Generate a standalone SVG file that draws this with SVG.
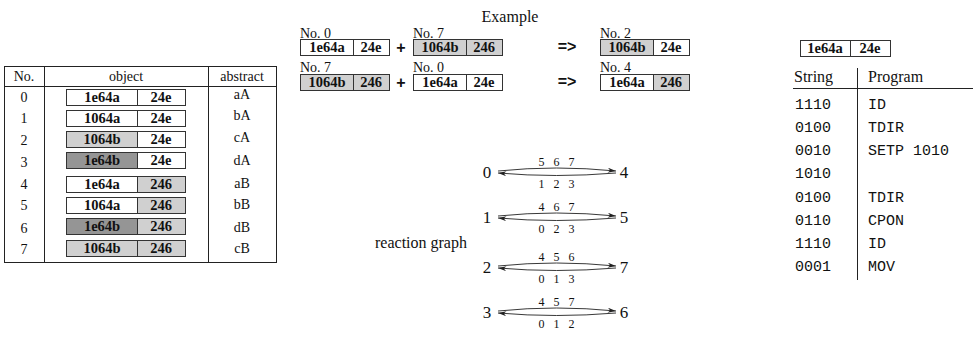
<svg xmlns="http://www.w3.org/2000/svg" width="973" height="340" viewBox="0 0 973 340">
<style>
.t{font-family:"Liberation Serif","Times New Roman",serif;font-size:14px;fill:#111}
.tm{font-family:"Liberation Serif","Times New Roman",serif;font-size:14px;fill:#111;text-anchor:middle}
.b{font-family:"Liberation Serif","Times New Roman",serif;font-size:14.5px;font-weight:bold;fill:#111;text-anchor:middle}
.big{font-family:"Liberation Serif","Times New Roman",serif;font-size:16px;fill:#111;text-anchor:middle}
.node{font-family:"Liberation Serif","Times New Roman",serif;font-size:17px;fill:#111;text-anchor:middle}
.sm{font-family:"Liberation Serif","Times New Roman",serif;font-size:12px;fill:#111;text-anchor:middle;letter-spacing:3px}
.op{font-family:"Liberation Sans",Arial,sans-serif;font-size:16px;font-weight:bold;fill:#111;text-anchor:middle}
.mono{font-family:"Liberation Mono","Courier New",monospace;font-size:15px;fill:#111}
.ln{stroke:#222;stroke-width:1;fill:none}
.cell{stroke:#333;stroke-width:1}
.w{fill:#fff}
.l{fill:#d0d0d0}
.d{fill:#959595}
.arc{stroke:#222;stroke-width:0.9;fill:none;marker-end:url(#ah)}
</style>
<defs>
<marker id="ah" viewBox="0 0 10 6" refX="10" refY="3" markerWidth="10" markerHeight="5" markerUnits="userSpaceOnUse" orient="auto">
<path d="M0,0 L10,3 L0,6 L3,3 Z" fill="#222"/>
</marker>
</defs>

<text x="510" y="22" class="big">Example</text>

<!-- left table -->
<g id="table">
<rect x="4.5" y="66.5" width="272" height="196" class="ln"/>
<line x1="4" y1="86.5" x2="276" y2="86.5" class="ln"/>
<line x1="44.5" y1="66" x2="44.5" y2="262" class="ln"/>
<line x1="208.5" y1="66" x2="208.5" y2="262" class="ln"/>
<text x="24" y="81" class="tm">No.</text>
<text x="126" y="81" class="tm">object</text>
<text x="242" y="81" class="tm">abstract</text>
</g>

<g id="row0"><text x="24" y="102" class="tm">0</text>
<rect x="66.5" y="89.5" width="71" height="16" class="cell w"/><rect x="137.5" y="89.5" width="48" height="16" class="cell w"/>
<text x="102" y="102" class="b">1e64a</text><text x="161" y="102" class="b">24e</text>
<text x="242" y="99" class="tm">aA</text></g>

<g id="row1"><text x="24" y="123" class="tm">1</text>
<rect x="66.5" y="110.5" width="71" height="16" class="cell w"/><rect x="137.5" y="110.5" width="48" height="16" class="cell w"/>
<text x="102" y="123" class="b">1064a</text><text x="161" y="123" class="b">24e</text>
<text x="242" y="120" class="tm">bA</text></g>

<g id="row2"><text x="24" y="145" class="tm">2</text>
<rect x="66.5" y="131.5" width="71" height="16" class="cell l"/><rect x="137.5" y="131.5" width="48" height="16" class="cell w"/>
<text x="102" y="144" class="b">1064b</text><text x="161" y="144" class="b">24e</text>
<text x="242" y="142" class="tm">cA</text></g>

<g id="row3"><text x="24" y="167" class="tm">3</text>
<rect x="66.5" y="152.5" width="71" height="16" class="cell d"/><rect x="137.5" y="152.5" width="48" height="16" class="cell w"/>
<text x="102" y="165" class="b">1e64b</text><text x="161" y="165" class="b">24e</text>
<text x="242" y="165" class="tm">dA</text></g>

<g id="row4"><text x="24" y="189" class="tm">4</text>
<rect x="66.5" y="176.5" width="71" height="16" class="cell w"/><rect x="137.5" y="176.5" width="48" height="16" class="cell l"/>
<text x="102" y="189" class="b">1e64a</text><text x="161" y="189" class="b">246</text>
<text x="242" y="188" class="tm">aB</text></g>

<g id="row5"><text x="24" y="210" class="tm">5</text>
<rect x="66.5" y="197.5" width="71" height="16" class="cell w"/><rect x="137.5" y="197.5" width="48" height="16" class="cell l"/>
<text x="102" y="210" class="b">1064a</text><text x="161" y="210" class="b">246</text>
<text x="242" y="209" class="tm">bB</text></g>

<g id="row6"><text x="24" y="233" class="tm">6</text>
<rect x="66.5" y="218.5" width="71" height="16" class="cell d"/><rect x="137.5" y="218.5" width="48" height="16" class="cell l"/>
<text x="102" y="231" class="b">1e64b</text><text x="161" y="231" class="b">246</text>
<text x="242" y="232" class="tm">dB</text></g>

<g id="row7"><text x="24" y="254" class="tm">7</text>
<rect x="66.5" y="240.5" width="71" height="16" class="cell l"/><rect x="137.5" y="240.5" width="48" height="16" class="cell l"/>
<text x="102" y="253" class="b">1064b</text><text x="161" y="253" class="b">246</text>
<text x="242" y="253" class="tm">cB</text></g>

<!-- example row 1 -->
<g id="ex1a"><text x="300" y="38" class="t">No. 0</text>
<rect x="300.5" y="39.5" width="53" height="16" class="cell w"/><rect x="353.5" y="39.5" width="36" height="16" class="cell w"/>
<text x="327" y="52" class="b">1e64a</text><text x="371" y="52" class="b">24e</text></g>
<text x="401" y="53" class="op">+</text>
<g id="ex1b"><text x="413" y="38" class="t">No. 7</text>
<rect x="413.5" y="39.5" width="53" height="16" class="cell l"/><rect x="466.5" y="39.5" width="36" height="16" class="cell l"/>
<text x="440" y="52" class="b">1064b</text><text x="484" y="52" class="b">246</text></g>
<text x="567" y="52" class="op">=&gt;</text>
<g id="ex1c"><text x="600" y="38" class="t">No. 2</text>
<rect x="600.5" y="39.5" width="53" height="16" class="cell l"/><rect x="653.5" y="39.5" width="36" height="16" class="cell w"/>
<text x="627" y="52" class="b">1064b</text><text x="671" y="52" class="b">24e</text></g>

<!-- example row 2 -->
<g id="ex2a"><text x="300" y="72" class="t">No. 7</text>
<rect x="300.5" y="74.5" width="53" height="16" class="cell l"/><rect x="353.5" y="74.5" width="36" height="16" class="cell l"/>
<text x="327" y="87" class="b">1064b</text><text x="371" y="87" class="b">246</text></g>
<text x="401" y="88" class="op">+</text>
<g id="ex2b"><text x="413" y="72" class="t">No. 0</text>
<rect x="413.5" y="74.5" width="53" height="16" class="cell w"/><rect x="466.5" y="74.5" width="36" height="16" class="cell w"/>
<text x="440" y="87" class="b">1e64a</text><text x="484" y="87" class="b">24e</text></g>
<text x="567" y="87" class="op">=&gt;</text>
<g id="ex2c"><text x="600" y="72" class="t">No. 4</text>
<rect x="600.5" y="74.5" width="53" height="16" class="cell w"/><rect x="653.5" y="74.5" width="36" height="16" class="cell l"/>
<text x="627" y="87" class="b">1e64a</text><text x="671" y="87" class="b">246</text></g>

<!-- reaction graph -->
<text x="421" y="248" class="big">reaction graph</text>
<g id="n0"><text x="487" y="178" class="node">0</text></g>
<g id="n4"><text x="624" y="178" class="node">4</text></g>
<g id="n1"><text x="487" y="223" class="node">1</text></g>
<g id="n5"><text x="624" y="223" class="node">5</text></g>
<g id="n2"><text x="487" y="273" class="node">2</text></g>
<g id="n7"><text x="624" y="273" class="node">7</text></g>
<g id="n3"><text x="487" y="318" class="node">3</text></g>
<g id="n6"><text x="624" y="318" class="node">6</text></g>

<g id="edges">
<path d="M498,171 Q556,165 616,171" class="arc"/>
<path d="M616,173 Q556,178 498,173" class="arc"/>
<path d="M498,216 Q556,210 616,216" class="arc"/>
<path d="M616,218 Q556,223 498,218" class="arc"/>
<path d="M498,266 Q556,260 616,266" class="arc"/>
<path d="M616,268 Q556,273 498,268" class="arc"/>
<path d="M498,311 Q556,305 616,311" class="arc"/>
<path d="M616,313 Q556,318 498,313" class="arc"/>
</g>
<g id="elabels">
<text x="558" y="166" class="sm">5 6 7</text><text x="558" y="188" class="sm">1 2 3</text>
<text x="558" y="211" class="sm">4 6 7</text><text x="558" y="233" class="sm">0 2 3</text>
<text x="558" y="261" class="sm">4 5 6</text><text x="558" y="283" class="sm">0 1 3</text>
<text x="558" y="306" class="sm">4 5 7</text><text x="558" y="328" class="sm">0 1 2</text>
</g>

<!-- right: program -->
<g id="genome">
<rect x="800.5" y="40.5" width="50" height="16" class="cell w"/><rect x="850.5" y="40.5" width="40" height="16" class="cell w"/>
<text x="825" y="53" class="b">1e64a</text><text x="870" y="53" class="b">24e</text>
</g>
<g id="program">
<text x="794" y="82" class="big" style="text-anchor:start">String</text>
<text x="868" y="82" class="big" style="text-anchor:start">Program</text>
<line x1="793" y1="88.5" x2="973" y2="88.5" class="ln"/>
<line x1="857.5" y1="68" x2="857.5" y2="280" class="ln"/>
<text x="795" y="109" class="mono">1110</text><text x="868" y="109" class="mono">ID</text>
<text x="795" y="132" class="mono">0100</text><text x="868" y="132" class="mono">TDIR</text>
<text x="795" y="155" class="mono">0010</text><text x="868" y="155" class="mono">SETP 1010</text>
<text x="795" y="178" class="mono">1010</text>
<text x="795" y="202" class="mono">0100</text><text x="868" y="202" class="mono">TDIR</text>
<text x="795" y="225" class="mono">0110</text><text x="868" y="225" class="mono">CPON</text>
<text x="795" y="248" class="mono">1110</text><text x="868" y="248" class="mono">ID</text>
<text x="795" y="271" class="mono">0001</text><text x="868" y="271" class="mono">MOV</text>
</g>
</svg>
